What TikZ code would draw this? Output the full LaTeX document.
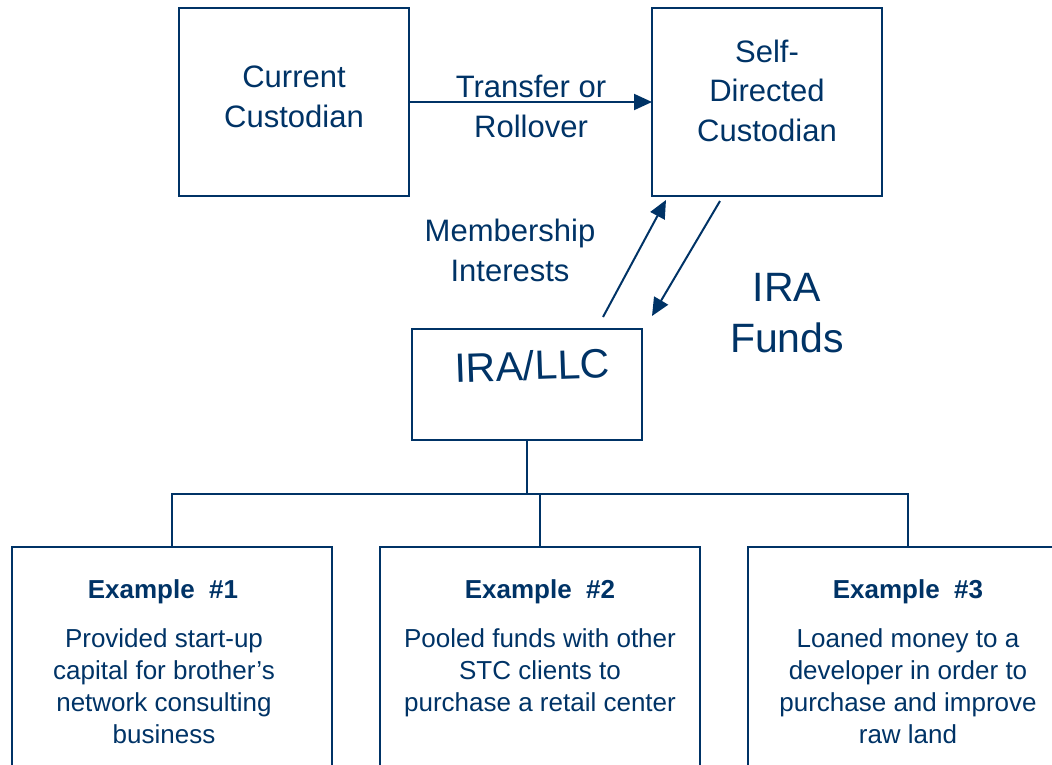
\documentclass[tikz,border=0pt]{standalone}
\usepackage{fontspec}
\setmainfont{Liberation Sans}
\usetikzlibrary{arrows.meta}
\definecolor{navy}{RGB}{0,51,102}
\begin{document}
\begin{tikzpicture}[x=1pt,y=-1pt,
  box/.style={draw=navy,line width=2pt,inner sep=0pt,outer sep=0pt},
  lbl/.style={text=navy,align=center,inner sep=0pt,anchor=base},
  fmid/.style={font=\fontsize{31}{39.5}\selectfont},
  fbig/.style={font=\fontsize{41}{51}\selectfont},
  fsmall/.style={font=\fontsize{26}{32}\selectfont},
  ftitle/.style={font=\fontsize{26}{32}\selectfont\bfseries},
  conn/.style={draw=navy,line width=2pt},
  arr/.style={conn,-{Triangle[length=18pt,width=16pt]}}]
\useasboundingbox (0,0) rectangle (1052,764);
\clip (0,0) rectangle (1052,764);
% boxes
\node[box,minimum width=230pt,minimum height=188pt] (cur) at (294,102) {};
\node[box,minimum width=230pt,minimum height=188pt] (sdc) at (767,102) {};
\node[box,minimum width=230pt,minimum height=111pt] (ira) at (527,384.5) {};
\node[box,minimum width=320pt,minimum height=240pt] (ex1) at (172,667) {};
\node[box,minimum width=320pt,minimum height=240pt] (ex2) at (540,667) {};
\node[box,minimum width=320pt,minimum height=240pt] (ex3) at (908,667) {};
% texts
\node[lbl,fmid] (tcur) at (294,127) {Current\\Custodian};
\node[lbl,fmid] (ttr) at (531,137) {Transfer or\\Rollover};
\node[lbl,fmid] (tsdc) at (767,141) {Self-\\Directed\\Custodian};
\node[lbl,fmid] (tmem) at (510,281) {Membership\\Interests};
\node[lbl,fbig] (tfund) at (787,352) {IRA\\Funds};
\node[lbl,fbig,rotate=2] (tira) at (533,380) {IRA/LLC};
\node[lbl,ftitle] (h1) at (163,598) {Example\ \ \#1};
\node[lbl,ftitle] (h2) at (540,598) {Example\ \ \#2};
\node[lbl,ftitle] (h3) at (908,598) {Example\ \ \#3};
\node[lbl,fsmall] (b1) at (164,743) {Provided start-up\\capital for brother’s\\network consulting\\business};
\node[lbl,fsmall] (b2) at (540,711) {Pooled funds with other\\STC clients to\\purchase a retail center};
\node[lbl,fsmall] (b3) at (908,743) {Loaned money to a\\developer in order to\\purchase and improve\\raw land};
% connectors
\draw[arr] (cur) -- (sdc);
\coordinate (ups) at (603,317);
\coordinate (upe) at (666,200);
\coordinate (dns) at (720,201);
\coordinate (dne) at (652,316);
\draw[arr] (ups) -- (upe);
\draw[arr] (dns) -- (dne);
\coordinate (bar) at (0,494);
\draw[conn] (ira.south) -- (ira.south |- bar);
\draw[conn] (ex1.north) -- (ex1.north |- bar) -- (ex3.north |- bar) -- (ex3.north);
\draw[conn] (ex2.north) -- (ex2.north |- bar);
\end{tikzpicture}
\end{document}
